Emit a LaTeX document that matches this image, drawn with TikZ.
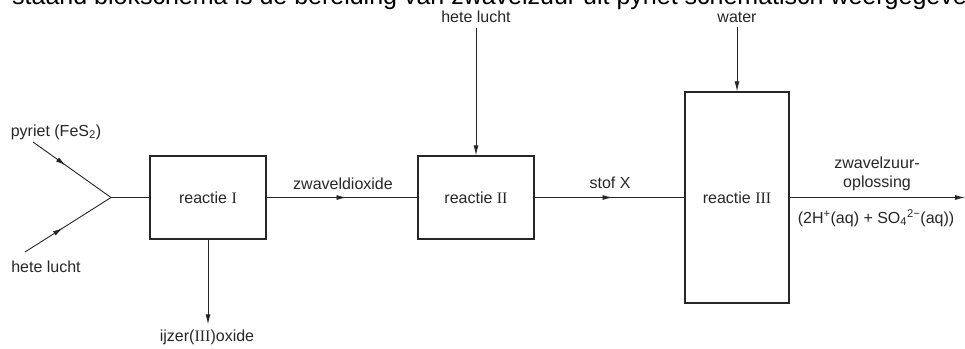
\documentclass[tikz,border=0pt]{standalone}
\usepackage{fontspec}
\setmainfont{Liberation Sans}
\newfontfamily\romfont{Liberation Serif}
\usetikzlibrary{arrows.meta,decorations.markings}
\begin{document}
\begin{tikzpicture}[x=1pt,y=-1pt,
  every node/.style={font=\fontsize{16}{19}\selectfont, inner sep=0pt, text=black!85},
  box/.style={draw=black!85, line width=1.3pt, minimum width=116pt, minimum height=83pt},
  flow/.style={draw=black!85, line width=0.9pt},
  endtip/.style={-{Latex[length=10pt,width=5pt]}},
  midtip/.style={postaction={decorate}, decoration={markings,
      mark=at position #1 with {\arrow{Latex[length=10pt,width=5pt]}}}},
]
\clip (0,0) rectangle (965,348);
\path[use as bounding box] (0,0) rectangle (965,348);

% clipped caption line at top
\node[anchor=base west, font=\fontsize{25}{29}\selectfont, text=black] (cap) at (12,4.5)
  {staand blokschema is de bereiding van zwavelzuur uit pyriet schematisch weergegeven};

% boxes
\node[box] (r1) at (208,197.5) {reactie {\romfont I}};
\node[box] (r2) at (476,197.5) {reactie {\romfont II}};
\node[box, minimum width=104pt, minimum height=211pt] (r3) at (737,197.5) {reactie {\romfont III}};

% inputs left
\node (py) at (56,132) {pyriet (FeS\textsubscript{2})};
\node (hl1) at (46,267) {hete lucht};
\coordinate (p0) at (33,142);
\coordinate (h0) at (25,252);
\coordinate (j) at (111,197.5);
\draw[flow, midtip=0.42] (p0) -- (j);
\draw[flow, midtip=0.44] (h0) -- (j);
\draw[flow] (j) -- (r1.west);

% ijzer(III)oxide
\node (fe) at (207,337) {ijzer({\romfont III})oxide};
\draw[flow, endtip, shorten >=5pt] (r1.south) -- (r1.south |- fe.north);

% zwaveldioxide
\draw[flow, midtip=0.53] (r1.east) -- (r2.west);
\node (so2) at (343,184) {zwaveldioxide};

% hete lucht top
\node (hl2) at (476,17) {hete lucht};
\draw[flow, endtip, shorten <=5pt] (hl2.south) -- (r2.north);

% stof X
\draw[flow, midtip=0.52] (r2.east) -- (r3.west);
\node (x) at (610,183) {stof X};

% water
\node (wa) at (737,17) {water};
\draw[flow, endtip, shorten <=5pt] (wa.south) -- (r3.north);

% output
\coordinate (out) at (965,197.5);
\draw[flow, endtip] (r3.east) -- (out);
\node (z1) at (877,163) {zwavelzuur-};
\node (z2) at (877,183) {oplossing};
\node (ion) at (876,218) {(2H\textsuperscript{+}(aq) + SO\textsubscript{4}\textsuperscript{2−}(aq))};
\end{tikzpicture}
\end{document}
